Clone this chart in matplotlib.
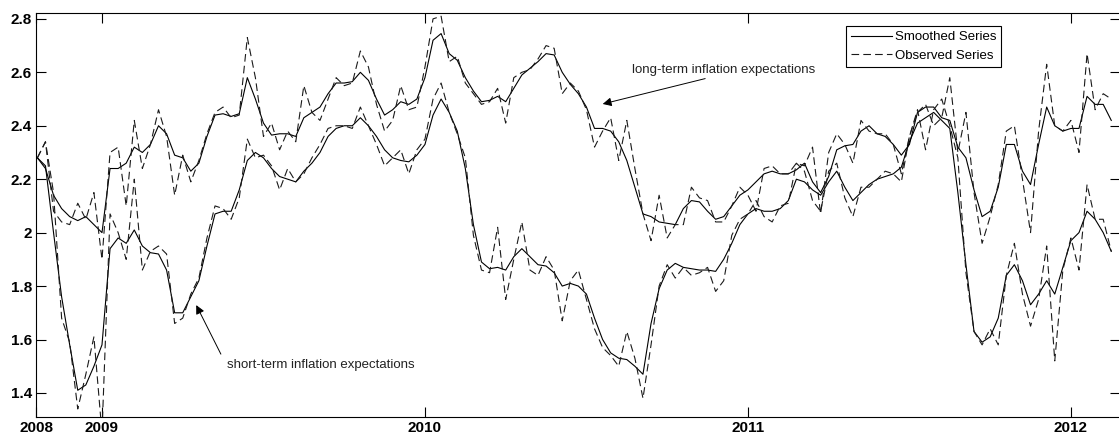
import numpy as np
import matplotlib
matplotlib.use("Agg")
import matplotlib.pyplot as plt

plt.rcParams["font.family"] = ["Liberation Sans", "DejaVu Sans"]
plt.rcParams["lines.scale_dashes"] = False

# inflation expectations, sampled every 0.025 year from late 2008
long_smooth = [
    2.28, 2.24, 2.14, 2.09, 2.06, 2.045, 2.06, 2.03, 2.00, 2.24,
    2.24, 2.26, 2.32, 2.30, 2.33, 2.40, 2.37, 2.29, 2.28, 2.23,
    2.26, 2.36, 2.44, 2.445, 2.435, 2.445, 2.58, 2.50, 2.41, 2.365,
    2.37, 2.37, 2.36, 2.43, 2.45, 2.47, 2.52, 2.56, 2.56, 2.565,
    2.60, 2.57, 2.50, 2.44, 2.46, 2.49, 2.48, 2.50, 2.58, 2.72,
    2.745, 2.67, 2.645, 2.58, 2.53, 2.49, 2.495, 2.51, 2.49, 2.54,
    2.59, 2.615, 2.64, 2.67, 2.665, 2.60, 2.555, 2.52, 2.47, 2.39,
    2.39, 2.38, 2.34, 2.27, 2.17, 2.07, 2.06, 2.04, 2.035, 2.03,
    2.09, 2.12, 2.115, 2.08, 2.05, 2.06, 2.10, 2.14, 2.16, 2.19,
    2.22, 2.23, 2.22, 2.22, 2.235, 2.26, 2.19, 2.15, 2.21, 2.31,
    2.325, 2.33, 2.38, 2.40, 2.37, 2.36, 2.33, 2.29, 2.33, 2.45,
    2.47, 2.47, 2.43, 2.42, 2.32, 2.28, 2.16, 2.06, 2.08, 2.17,
    2.33, 2.33, 2.23, 2.18, 2.33, 2.47, 2.40, 2.38, 2.39, 2.39,
    2.51, 2.48, 2.48, 2.42,
]
long_obs = [
    2.28, 2.34, 2.08, 2.04, 2.03, 2.11, 2.05, 2.15, 1.90, 2.30,
    2.32, 2.10, 2.42, 2.24, 2.33, 2.46, 2.36, 2.14, 2.29, 2.19,
    2.27, 2.37, 2.45, 2.47, 2.43, 2.44, 2.73, 2.58, 2.36, 2.41,
    2.31, 2.38, 2.34, 2.55, 2.45, 2.42, 2.50, 2.58, 2.55, 2.56,
    2.68, 2.62, 2.48, 2.38, 2.42, 2.55, 2.46, 2.47, 2.62, 2.80,
    2.81, 2.64, 2.66, 2.56, 2.52, 2.48, 2.49, 2.54, 2.41, 2.58,
    2.60, 2.61, 2.65, 2.70, 2.69, 2.52, 2.56, 2.53, 2.46, 2.32,
    2.38, 2.43, 2.27, 2.42, 2.24, 2.07, 1.97, 2.14, 1.98, 2.03,
    2.03, 2.17, 2.13, 2.12, 2.04, 2.04, 2.10, 2.17, 2.14, 2.08,
    2.24, 2.25, 2.22, 2.22, 2.26, 2.25, 2.32, 2.07, 2.30, 2.37,
    2.33, 2.26, 2.42, 2.38, 2.37, 2.37, 2.33, 2.22, 2.36, 2.45,
    2.48, 2.40, 2.43, 2.58, 2.30, 2.45, 2.15, 1.96, 2.06, 2.18,
    2.38, 2.40, 2.20, 2.00, 2.38, 2.63, 2.40, 2.38, 2.42, 2.30,
    2.67, 2.46, 2.52, 2.50,
]
short_smooth = [
    2.28, 2.25, 2.00, 1.76, 1.58, 1.41, 1.43, 1.50, 1.58, 1.94,
    1.98, 1.96, 2.01, 1.95, 1.925, 1.92, 1.86, 1.70, 1.70, 1.76,
    1.82, 1.95, 2.07, 2.08, 2.08, 2.16, 2.27, 2.30, 2.28, 2.24,
    2.21, 2.20, 2.19, 2.23, 2.26, 2.30, 2.36, 2.39, 2.40, 2.40,
    2.43, 2.40, 2.36, 2.31, 2.28, 2.27, 2.265, 2.29, 2.33, 2.44,
    2.50, 2.45, 2.38, 2.24, 2.03, 1.89, 1.865, 1.87, 1.86, 1.91,
    1.94, 1.91, 1.88, 1.875, 1.85, 1.80, 1.81, 1.80, 1.77, 1.68,
    1.60, 1.55, 1.53, 1.525, 1.50, 1.47, 1.66, 1.79, 1.86, 1.885,
    1.87, 1.865, 1.86, 1.86, 1.855, 1.90, 1.96, 2.03, 2.07, 2.09,
    2.08, 2.08, 2.09, 2.12, 2.20, 2.19, 2.16, 2.14, 2.19, 2.23,
    2.17, 2.12, 2.15, 2.18, 2.20, 2.21, 2.22, 2.245, 2.34, 2.41,
    2.43, 2.45, 2.42, 2.39, 2.15, 1.88, 1.63, 1.59, 1.61, 1.68,
    1.84, 1.88, 1.82, 1.73, 1.77, 1.82, 1.77, 1.87, 1.97, 2.00,
    2.08, 2.05, 2.00, 1.93,
]
short_obs = [
    2.28, 2.34, 2.15, 1.68, 1.59, 1.34, 1.47, 1.61, 1.25, 2.07,
    2.00, 1.90, 2.20, 1.86, 1.93, 1.95, 1.92, 1.66, 1.68, 1.77,
    1.83, 1.98, 2.10, 2.09, 2.05, 2.13, 2.35, 2.28, 2.29, 2.25,
    2.16, 2.24, 2.19, 2.22, 2.28, 2.33, 2.39, 2.40, 2.40, 2.39,
    2.47, 2.40, 2.33, 2.25, 2.28, 2.31, 2.22, 2.31, 2.35, 2.50,
    2.56, 2.45, 2.37, 2.28, 1.99, 1.86, 1.85, 2.02, 1.75, 1.90,
    2.04, 1.86, 1.84, 1.91, 1.86, 1.67, 1.82, 1.86, 1.75, 1.64,
    1.57, 1.54, 1.50, 1.63, 1.53, 1.38, 1.58, 1.80, 1.88, 1.83,
    1.87, 1.84, 1.85, 1.87, 1.78, 1.82, 1.99, 2.05, 2.07, 2.12,
    2.06, 2.04, 2.10, 2.11, 2.26, 2.23, 2.12, 2.08, 2.23, 2.26,
    2.13, 2.06, 2.17, 2.17, 2.20, 2.23, 2.22, 2.19, 2.36, 2.46,
    2.31, 2.46, 2.50, 2.40, 2.28, 1.85, 1.63, 1.58, 1.64, 1.58,
    1.84, 1.96, 1.77, 1.65, 1.75, 1.95, 1.52, 1.86, 1.98, 1.86,
    2.18, 2.05, 2.05, 1.93,
]

t = 2008.80 + 0.025 * np.arange(len(long_smooth))

xticks = [2008.7957, 2009, 2010, 2011, 2012]
xticklabels = ["2008", "2009", "2010", "2011", "2012"]
yticks = [1.4, 1.6, 1.8, 2.0, 2.2, 2.4, 2.6, 2.8]
yticklabels = ["1.4", "1.6", "1.8", "2", "2.2", "2.4", "2.6", "2.8"]

fig = plt.figure(figsize=(11.19, 4.36), dpi=100)
ax = fig.add_axes([36 / 1119, 19 / 436, 1084 / 1119, 404 / 436])

dash = (0, (5.5, 3.0))
ax.plot(t, long_smooth, color="k", lw=0.8, label="Smoothed Series")
ax.plot(t, long_obs, color="#1a1a1a", lw=0.8, linestyle=dash, label="Observed Series")
ax.plot(t, short_smooth, color="k", lw=0.8)
ax.plot(t, short_obs, color="#1a1a1a", lw=0.8, linestyle=dash)

ax.set_xlim(2008.7957, 2012.152)
ax.set_ylim(1.31, 2.822)
ax.set_xticks(xticks)
ax.set_xticklabels(xticklabels)
ax.set_yticks(yticks)
ax.set_yticklabels(yticklabels)
ax.tick_params(direction="in", length=7, width=0.8, top=True, right=True,
               labelsize=11, pad=3, colors="k")
for lab in ax.get_xticklabels() + ax.get_yticklabels():
    lab.set_fontweight("bold")
for sp in ax.spines.values():
    sp.set_linewidth(0.8)

# annotations
ax.annotate("", xy=(2010.542, 2.479), xytext=(2010.876, 2.579),
            arrowprops=dict(arrowstyle="-|>", color="k", lw=0.7, mutation_scale=13))
ax.text(2010.641, 2.609, "long-term inflation expectations", fontsize=9.5,
        color="#222222", va="center", ha="left")
ax.annotate("", xy=(2009.288, 1.738), xytext=(2009.372, 1.536),
            arrowprops=dict(arrowstyle="-|>", color="k", lw=0.7, mutation_scale=13))
ax.text(2009.387, 1.503, "short-term inflation expectations", fontsize=9.5,
        color="#222222", va="center", ha="left")

leg = ax.legend(loc="upper right", bbox_to_anchor=(0.8905, 0.968), fontsize=9.5,
                frameon=True, fancybox=False, edgecolor="k", framealpha=1,
                handlelength=3.1, handletextpad=0.2, borderpad=0.4,
                labelspacing=0.45, borderaxespad=0)
leg.get_frame().set_linewidth(0.8)

fig.savefig("out.png", dpi=100)
